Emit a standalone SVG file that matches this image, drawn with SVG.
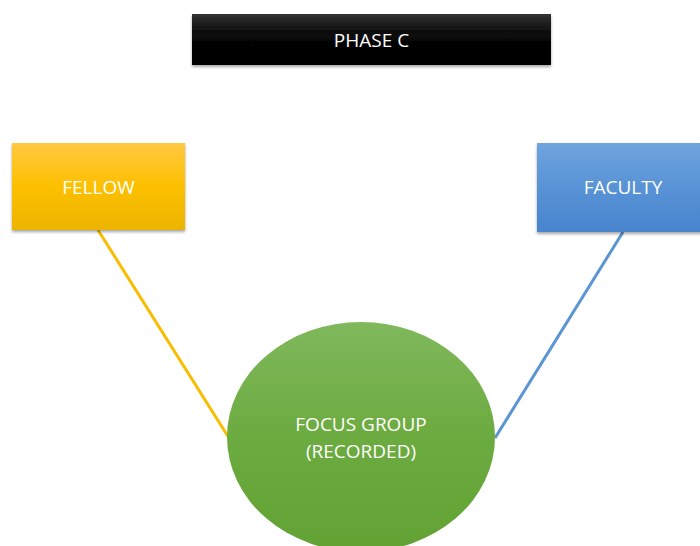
<svg xmlns="http://www.w3.org/2000/svg" width="700" height="546" viewBox="0 0 700 546">
  <defs>
    <linearGradient id="gBlack" x1="0" y1="0" x2="0" y2="1">
      <stop offset="0" stop-color="#333333"/>
      <stop offset="0.4" stop-color="#080808"/>
      <stop offset="1" stop-color="#000000"/>
    </linearGradient>
    <linearGradient id="gGold" x1="0" y1="0" x2="0" y2="1">
      <stop offset="0" stop-color="#ffc842"/>
      <stop offset="0.5" stop-color="#fdc000"/>
      <stop offset="1" stop-color="#ebb400"/>
    </linearGradient>
    <linearGradient id="gBlue" x1="0" y1="0" x2="0" y2="1">
      <stop offset="0" stop-color="#6fa4de"/>
      <stop offset="0.5" stop-color="#5893d6"/>
      <stop offset="1" stop-color="#4884cc"/>
    </linearGradient>
    <linearGradient id="gGreen" x1="0" y1="0" x2="0" y2="1">
      <stop offset="0" stop-color="#80b85c"/>
      <stop offset="0.5" stop-color="#6cab40"/>
      <stop offset="1" stop-color="#62a233"/>
    </linearGradient>
    <filter id="shadow" x="-10%" y="-10%" width="120%" height="130%">
      <feDropShadow dx="0" dy="2" stdDeviation="1.5" flood-color="#000" flood-opacity="0.35"/>
    </filter>
  </defs>
  <style>
    .label { font-family: "Open Sans", "Liberation Sans", sans-serif; font-size: 19px; fill: #ffffff; text-anchor: middle; }
    .link { fill: none; stroke-width: 3; }
  </style>

  <rect width="700" height="546" fill="#ffffff"/>

  <!-- connectors -->
  <g id="connectors">
    <line class="link" x1="98" y1="230" x2="229" y2="438" stroke="#f8bd00"/>
    <line class="link" x1="623" y1="232" x2="495" y2="438" stroke="#5b95d3"/>
  </g>

  <g id="phase">
    <rect x="192" y="14" width="359" height="51" fill="url(#gBlack)" filter="url(#shadow)"/>
    <text class="label" x="371.5" y="47">PHASE C</text>
  </g>

  <g id="fellow">
    <rect x="12" y="143" width="173" height="87" fill="url(#gGold)" filter="url(#shadow)"/>
    <text class="label" x="98.5" y="194">FELLOW</text>
  </g>

  <g id="faculty">
    <rect x="537" y="143" width="175" height="89" fill="url(#gBlue)" filter="url(#shadow)"/>
    <text class="label" x="623" y="194">FACULTY</text>
  </g>

  <g id="focus-group">
    <ellipse cx="361" cy="437" rx="134" ry="115" fill="url(#gGreen)"/>
    <text class="label" x="361" y="431">FOCUS GROUP</text>
    <text class="label" x="361" y="458">(RECORDED)</text>
  </g>
</svg>
